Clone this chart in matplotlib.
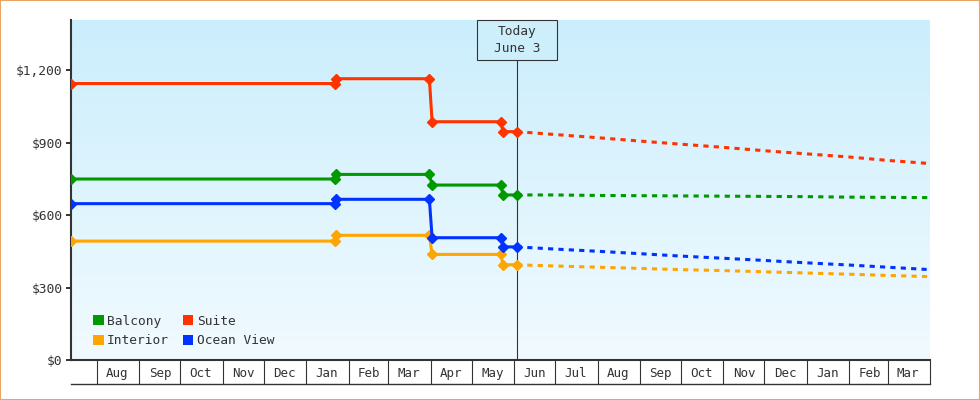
import numpy as np
import pandas as pd
import matplotlib
matplotlib.use('Agg')
import matplotlib.pyplot as plt
import matplotlib.dates as mdates
import matplotlib.transforms as mtransforms
from matplotlib.patches import Patch, Rectangle
from matplotlib.lines import Line2D
from matplotlib.ticker import FuncFormatter, FixedLocator

# --- data ---
categories = ['Balcony', 'Interior', 'Suite', 'Ocean View']
colors = ['#009900', '#ffa500', '#ff3300', '#0033ff']

hist_dates = ['2023-07-13', '2024-01-22', '2024-01-23', '2024-03-31',
              '2024-04-02', '2024-05-22', '2024-05-24', '2024-06-03']
balcony_hist = [749, 749, 768, 768, 724, 724, 683, 683]
interior_hist = [492, 492, 516, 516, 437, 437, 394, 394]
suite_hist = [1144, 1144, 1164, 1164, 986, 986, 945, 945]
ocean_hist = [647, 647, 665, 665, 506, 506, 468, 468]

fc_dates = ['2024-06-03', '2024-07-01', '2024-08-01', '2024-09-01', '2024-10-01',
            '2024-11-01', '2024-12-01', '2025-01-01', '2025-02-01', '2025-03-01',
            '2025-04-01']
balcony_fc = [683, 683, 681, 680, 679, 678, 677, 676, 674, 673, 672]
interior_fc = [394, 389, 384, 379, 374, 370, 365, 360, 355, 350, 345]
suite_fc = [945, 933, 920, 906, 893, 880, 866, 853, 840, 826, 813]
ocean_fc = [468, 459, 450, 440, 430, 421, 412, 402, 393, 384, 374]

today = pd.Timestamp('2024-06-03')
x_start = pd.Timestamp('2023-07-13')
x_end = pd.Timestamp('2025-04-01')
first_month = pd.Timestamp('2023-08-01')

hist = [balcony_hist, interior_hist, suite_hist, ocean_hist]
fc = [balcony_fc, interior_fc, suite_fc, ocean_fc]
hd = pd.to_datetime(hist_dates)
fd = pd.to_datetime(fc_dates)

txt = '#333333'
plt.rcParams['font.family'] = ['DejaVu Sans Mono']

fig = plt.figure(figsize=(9.8, 4), dpi=100)
ax = fig.add_axes([71/980, 40/400, 859/980, 340/400])

# gradient background
grad = np.linspace(0, 1, 256).reshape(-1, 1)
cmap = matplotlib.colors.LinearSegmentedColormap.from_list('bg', ['#cbeefc', '#f1faff'])
ax.imshow(grad, extent=[0, 1, 0, 1], transform=ax.transAxes, cmap=cmap,
          aspect='auto', zorder=0, origin='upper')

for c, h, f in zip(colors, hist, fc):
    ax.plot(hd, h, color=c, lw=2.2, marker='D', ms=5, zorder=3)
    ax.plot(fd, f, color=c, lw=2.2, ls=(0, (1.7, 1.7)), zorder=3)

ax.set_xlim(x_start, x_end)
ax.set_ylim(0, 1407)

# today marker
blend = mtransforms.blended_transform_factory(ax.transData, ax.transAxes)
box_bottom = 1 - 40/340
ax.axvline(today, ymin=0, ymax=box_bottom, color=txt, lw=0.8, zorder=2)
half = pd.Timedelta(days=29.3)
ax.add_patch(Rectangle((mdates.date2num(today - half), box_bottom),
                       mdates.date2num(today + half) - mdates.date2num(today - half),
                       1 - box_bottom, transform=blend, facecolor='#cdeffc',
                       edgecolor=txt, lw=0.8, zorder=4, clip_on=False))
ax.text(today, (1 + box_bottom) / 2, 'Today\nJune 3', transform=blend, ha='center',
        va='center', fontsize=9.3, color=txt, linespacing=1.35, zorder=5)

# y axis
ax.set_yticks([0, 300, 600, 900, 1200])
ax.yaxis.set_major_formatter(FuncFormatter(lambda v, p: '${:,.0f}'.format(v)))
ax.tick_params(axis='y', direction='out', length=3.6, width=1.4, color=txt,
               labelcolor=txt, labelsize=9.3, pad=2.4)

# x axis boxes: month boundaries + labels in the middle of each month
bounds = pd.date_range(first_month, x_end, freq='MS')
mids = bounds[:-1] + pd.Timedelta(days=15)
ax.xaxis.set_major_locator(FixedLocator(mdates.date2num(bounds)))
ax.xaxis.set_major_formatter(plt.NullFormatter())
ax.xaxis.set_minor_locator(FixedLocator(mdates.date2num(mids)))
ax.xaxis.set_minor_formatter(mdates.DateFormatter('%b'))
ax.tick_params(axis='x', which='major', direction='out', length=17.3, width=0.8, color=txt)
ax.tick_params(axis='x', which='minor', length=0, labelsize=9, labelcolor=txt, pad=5)
ax.add_line(Line2D([0, 1], [-24/340, -24/340], transform=ax.transAxes, color=txt,
                   lw=1.0, clip_on=False))

for s in ['top', 'right']:
    ax.spines[s].set_visible(False)
for s in ['left', 'bottom']:
    ax.spines[s].set_color(txt)
    ax.spines[s].set_linewidth(1.5)

handles = [Patch(facecolor=c, edgecolor='none', label=n) for c, n in zip(colors, categories)]
ax.legend(handles=handles, ncol=2, loc='lower left', bbox_to_anchor=(0.026, 0.038),
          frameon=False, fontsize=9.3, handlelength=0.8, handleheight=0.8,
          handletextpad=0.25, columnspacing=1.1, labelspacing=0.5, borderpad=0,
          borderaxespad=0, labelcolor=txt)

fig.patches.append(Rectangle((0, 0), 1, 1, transform=fig.transFigure, fill=False,
                             edgecolor='#e6a765', lw=1.5))

fig.savefig('out.png', dpi=100)
